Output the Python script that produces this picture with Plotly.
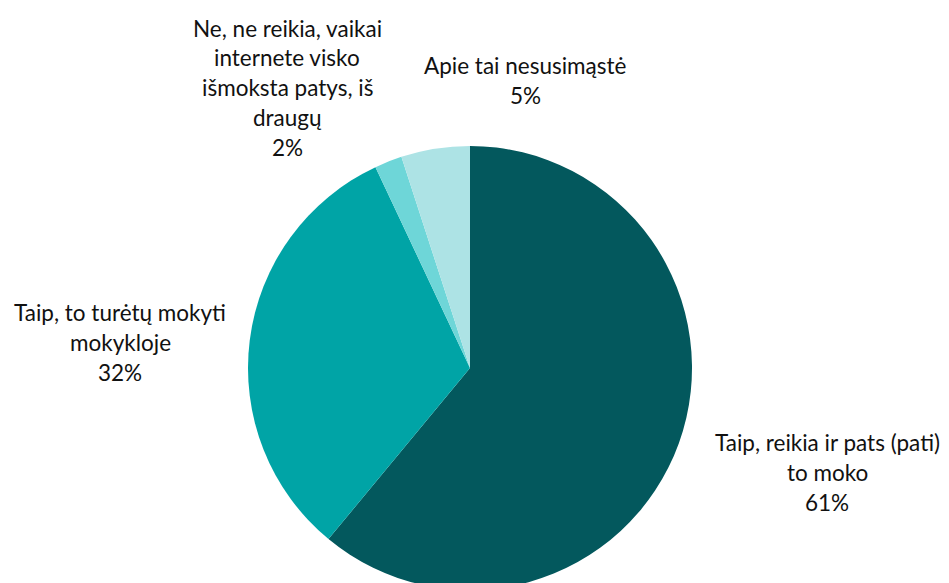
import plotly.graph_objects as go

categories = [
    "Taip, reikia ir pats (pati) to moko",
    "Taip, to turėtų mokyti mokykloje",
    "Ne, ne reikia, vaikai internete visko išmoksta patys, iš draugų",
    "Apie tai nesusimąstė",
]
values = [61, 32, 2, 5]
label_lines = [
    ["Taip, reikia ir pats (pati)", "to moko", "61%"],
    ["Taip, to turėtų mokyti", "mokykloje", "32%"],
    ["Ne, ne reikia, vaikai", "internete visko", "išmoksta patys, iš", "draugų", "2%"],
    ["Apie tai nesusimąstė", "5%"],
]
colors = ["#03585D", "#00A4A6", "#6ED6D8", "#ADE3E5"]

W, H = 949, 583
OFF = 8  # page body margin offsets the figure on screen
# label anchor (center x, first line y) in screen pixels
label_pos = [(827, 442), (120, 312), (287, 28), (525, 66)]
line_step = 30

cx, cy, r = 470 - OFF, 368 - OFF, 222

fig = go.Figure(go.Pie(
    labels=categories, values=values, sort=False, direction="clockwise",
    rotation=0, textinfo="none", hoverinfo="label+percent",
    marker=dict(colors=colors, line=dict(width=0)),
    domain=dict(x=[(cx - r) / W, (cx + r) / W],
                y=[max(0, 1 - (cy + r) / H), 1 - (cy - r) / H]),
    showlegend=False,
))

anns = []
for lines, (lx, ly) in zip(label_lines, label_pos):
    for i, t in enumerate(lines):
        anns.append(dict(
            text=t, x=(lx - OFF) / W, y=1 - (ly - OFF + i * line_step) / H,
            xref="paper", yref="paper", xanchor="center", yanchor="middle",
            showarrow=False, font=dict(family="Lato", size=22.5, color="#111111"),
        ))

fig.update_layout(
    width=W, height=H, margin=dict(l=0, r=0, t=0, b=0),
    paper_bgcolor="white", plot_bgcolor="white", annotations=anns,
)
fig.write_html("out.html")
